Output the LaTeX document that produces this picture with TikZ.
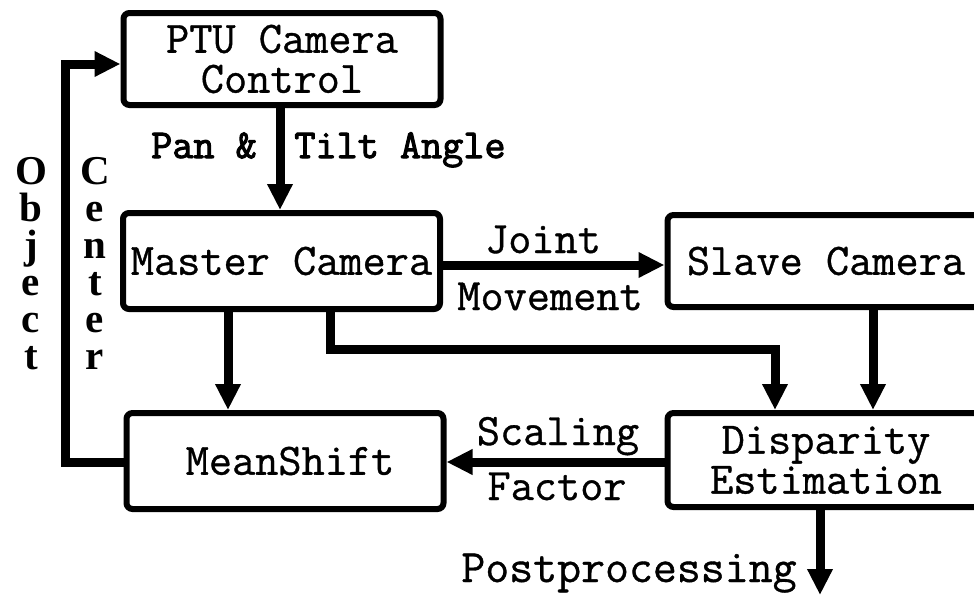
\documentclass[tikz,border=0pt]{standalone}
\usepackage{fontspec}
\usetikzlibrary{arrows.meta}
\newfontfamily\boxfont[FakeBold=0.8]{Latin Modern Mono}
\newfontfamily\labfont[FakeBold=2.5]{Latin Modern Mono}
\newfontfamily\vfont{Liberation Serif}
\tikzset{
  blk/.style={draw, line width=6pt, rounded corners=6pt, minimum width=317pt,
    minimum height=94pt, inner sep=0pt, align=center,
    font=\boxfont\fontsize{45}{40}\selectfont},
  lab/.style={inner sep=0pt, anchor=base, font=\boxfont\fontsize{45}{40}\selectfont},
  blab/.style={inner sep=0pt, anchor=base, font=\labfont\fontsize{41}{40}\selectfont},
  vlab/.style={inner sep=0pt, anchor=north, align=center,
    font=\vfont\bfseries\fontsize{41}{37}\selectfont},
  arr/.style={line width=9pt, -{Triangle[length=26pt,width=24pt]}},
}
\begin{document}
\begin{tikzpicture}[x=1pt,y=-1pt]
\useasboundingbox (0,0) rectangle (974,595);

% processing blocks
\node[blk, minimum height=92pt] (ptu) at (282,59) {PTU Camera\\Control};
\node[blk, minimum height=96pt] (m)   at (281.5,261) {Master Camera};
\node[blk, minimum height=96pt] (ms)  at (285,461) {\hspace*{10pt}MeanShift};
\node[blk, minimum height=92pt] (sl)  at (826,261) {Slave Camera};
\node[blk] (dis) at (826,460) {Disparity\\Estimation};

% helper coordinates for the connector positions
\coordinate (xf) at (280,0);
\coordinate (xa) at (228,0);
\coordinate (xb) at (330,349);
\coordinate (xc) at (775,0);
\coordinate (xd) at (873,0);
\coordinate (xe) at (820,0);
\coordinate (out) at (820,595);
\coordinate (ya) at (0,265);
\coordinate (yb) at (0,462);
\coordinate (fb) at (65,64);

% connectors
\draw[arr] (ptu.south -| xf) -- (m.north -| xf);
\draw[arr] (m.south -| xa) -- (ms.north -| xa);
\draw[arr] (m.south -| xb) -- (xb) -| (dis.north -| xc);
\draw[arr] (sl.south -| xd) -- (dis.north -| xd);
\draw[arr] (m.east |- ya) -- (sl.west |- ya);
\draw[arr] (dis.west |- yb) -- (ms.east |- yb);
\draw[arr] (dis.south -| xe) -- (out);
\draw[arr] (ms.west |- yb) -| (fb) -- (fb -| ptu.west);

% connector labels
\node[blab] (pan)  at (204,158) {Pan \&};
\node[blab] (tilt) at (400,158) {Tilt Angle};
\node[lab] (joint) at (543,253) {Joint};
\node[lab] (move)  at (550,310) {Movement};
\node[lab] (scal)  at (558,445) {Scaling};
\node[lab] (fact)  at (557,500) {Factor};
\node[lab, font=\boxfont\fontsize{46.5}{40}\selectfont] (post) at (629,582) {Postprocessing};
\node[vlab] (obj) at (31,157) {O\\b\\j\\e\\c\\t};
\node[vlab] (cen) at (95,157) {C\\e\\n\\t\\e\\r};
\end{tikzpicture}
\end{document}
